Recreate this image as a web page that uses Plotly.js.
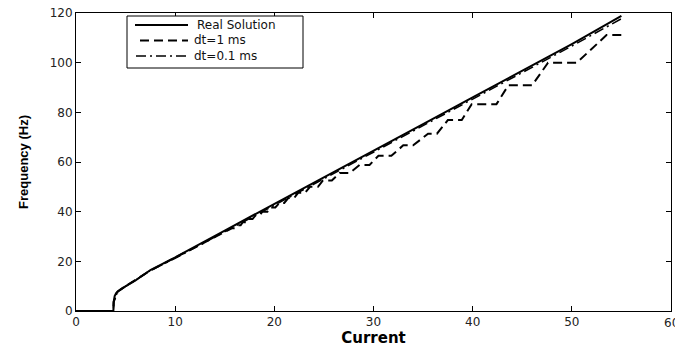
<!DOCTYPE html>
<html>
<head>
<meta charset="utf-8">
<script src="https://cdn.plot.ly/plotly-3.0.1.min.js"></script>
<style>html,body{margin:0;padding:0;background:#fff;}#chart{width:675px;height:347px;}</style>
</head>
<body>
<div id="chart"></div>
<script>
// Real solution
var realX = [0, 3.77, 3.8, 3.9, 4.05, 4.2, 4.6, 5, 6, 7.5, 10, 15, 20, 25, 30, 35, 40, 45, 50, 55];
var realY = [0, 0, 3.7, 6, 7.2, 7.9, 9, 10, 12.3, 16.5, 21.6, 32.4, 43.2, 53.9, 64.6, 75.3, 86, 96.7, 107.5, 118.8];

// dt = 1 ms (staircase)
var dt1X = [0, 3.77, 3.8, 4.2, 5, 7.5, 10, 12, 14, 15.0, 15.7, 16.0, 16.3, 16.6, 16.8, 17.2, 17.4, 17.8, 18.1, 18.5, 18.8, 19.3, 19.6, 20.1, 20.5, 21.0, 21.4, 22.0, 22.4, 23.1, 23.6, 24.4, 24.9, 25.8, 26.6, 27.6, 28.6, 29.6, 30.5, 31.8, 33.0, 34.0, 35.5, 36.4, 37.5, 38.9, 39.9, 42.4, 43.6, 46.0, 47.6, 50.5, 53.5, 55.0];
var dt1Y = [0, 0, 3.7, 7.8, 10, 16.3, 21.5, 25.6, 29.8, 31.6, 33.3, 33.3, 34.5, 34.5, 35.7, 35.7, 37.0, 37.0, 38.5, 38.5, 40.0, 40.0, 41.7, 41.7, 43.5, 43.5, 45.5, 45.5, 47.6, 47.6, 50.0, 50.0, 52.6, 52.6, 55.6, 55.6, 58.8, 58.8, 62.5, 62.5, 66.7, 66.7, 71.4, 71.4, 76.9, 76.9, 83.3, 83.3, 90.9, 90.9, 100, 100, 111.1, 111.1];

// dt = 0.1 ms
var dt01X = [0, 3.77, 3.8, 4.2, 5, 7.5, 10, 15, 20, 25, 30, 35, 40, 45, 50, 55];
var dt01Y = [0, 0, 3.7, 7.8, 9.9, 16.3, 21.2, 31.9, 42.6, 53.2, 63.9, 74.5, 85.2, 95.9, 106.7, 117.7];

var seriesNames = ['Real Solution', 'dt=1 ms', 'dt=0.1 ms'];
var xTicks = [0, 10, 20, 30, 40, 50, 60];
var yTicks = [0, 20, 40, 60, 80, 100, 120];

var dashes = ['solid', '9px,5px', '10px,4px,2px,4px'];
var widths = [2, 2, 1.5];
var traces = [
  {x: realX, y: realY, name: seriesNames[0], mode: 'lines', line: {color: '#000', width: widths[0], dash: dashes[0]}},
  {x: dt1X, y: dt1Y, name: seriesNames[1], mode: 'lines', line: {color: '#000', width: widths[1], dash: dashes[1]}},
  {x: dt01X, y: dt01Y, name: seriesNames[2], mode: 'lines', line: {color: '#000', width: widths[2], dash: dashes[2]}}
];

// plot-area geometry (pixels) for the hand-built legend
var L = 76, R = 671, T = 13, B = 311;
function px(v) { return (v - L) / (R - L); }
function py(v) { return (B - v) / (B - T); }

var shapes = [
  {type: 'rect', xref: 'paper', yref: 'paper', x0: px(127), x1: px(303), y0: py(16), y1: py(68),
   line: {color: '#000', width: 1}, fillcolor: '#fff', layer: 'above'}
];
var annotations = [];
var rowY = [25, 40.5, 56];
var lineStart = [135, 140, 136];
for (var i = 0; i < 3; i++) {
  shapes.push({type: 'line', xref: 'paper', yref: 'paper', x0: px(lineStart[i]), x1: px(188), y0: py(rowY[i]), y1: py(rowY[i]),
               line: {color: '#000', width: widths[i], dash: dashes[i]}, layer: 'above'});
  annotations.push({xref: 'paper', yref: 'paper', x: px(i === 0 ? 196 : 193), y: py(rowY[i]), xanchor: 'left', yanchor: 'middle',
                    text: seriesNames[i], showarrow: false, borderpad: 0,
                    font: {family: 'DejaVu Sans, sans-serif', size: 12, color: '#111'}});
}
var tickFont = {family: 'DejaVu Sans, sans-serif', size: 12, color: '#222'};
// label at x = 60, partly cut by the page edge as in the reference
annotations.push({xref: 'x', yref: 'y', x: 60, y: 0, yanchor: 'top', yshift: -3, text: '60', showarrow: false, font: tickFont});

var layout = {
  width: 675, height: 347,
  margin: {l: L, r: 675 - R, t: T, b: 347 - B, pad: 0},
  paper_bgcolor: '#fff', plot_bgcolor: '#fff',
  showlegend: false,
  shapes: shapes,
  annotations: annotations,
  xaxis: {range: [0, 60], tickvals: xTicks.slice(0, 6), ticktext: xTicks.slice(0, 6).map(String), ticks: 'inside', ticklen: 5,
          tickcolor: '#000', showline: true, linecolor: '#000', linewidth: 1, mirror: 'ticks',
          showgrid: false, zeroline: false, tickfont: tickFont,
          title: {text: 'Current', font: {family: 'DejaVu Sans, sans-serif', size: 15, color: '#000', weight: 'bold'}, standoff: 5}},
  yaxis: {range: [0, 120], tickvals: yTicks, ticktext: yTicks.map(String), ticks: 'inside', ticklen: 5,
          tickcolor: '#000', showline: true, linecolor: '#000', linewidth: 1, mirror: 'ticks',
          showgrid: false, zeroline: false, tickfont: tickFont,
          title: {text: 'Frequency (Hz)', font: {family: 'Liberation Sans, Arial, sans-serif', size: 13, color: '#000', weight: 'bold'}, standoff: 18}}
};

Plotly.newPlot('chart', traces, layout, {displayModeBar: false, staticPlot: true});
</script>
</body>
</html>
